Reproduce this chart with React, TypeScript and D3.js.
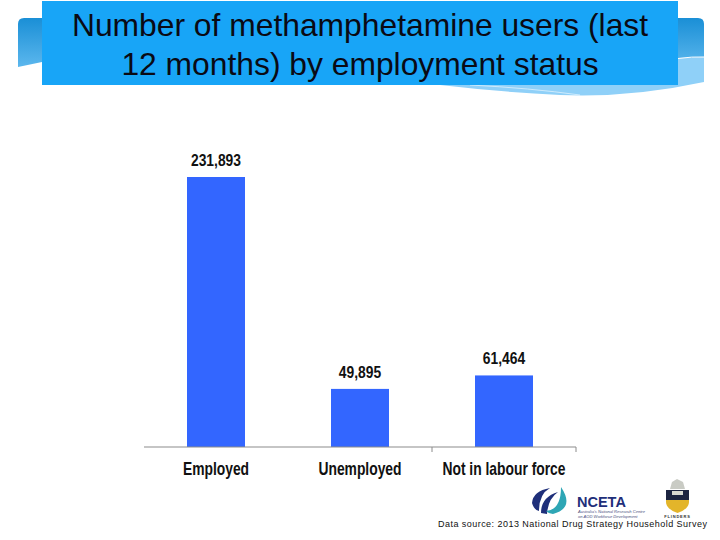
import React from "react";
import * as d3 from "d3";

const categories = ["Employed", "Unemployed", "Not in labour force"];
const values = [231893, 49895, 61464];
const titleLines = ["Number of methamphetamine users (last", "12 months) by employment status"];
const source = "Data source: 2013 National Drug Strategy Household Survey";

const W = 720, H = 540;
const band = d3.scaleBand<string>().domain(categories).range([144, 576]);
const y = d3.scaleLinear().domain([0, 231893]).range([447, 177]);
const fmt = d3.format(",");

export default function App() {
  return (
    <svg width={W} height={H} viewBox={`0 0 ${W} ${H}`} style={{ position: "fixed", left: 0, top: 0, background: "#fff" }}>
      <defs>
        <linearGradient id="ribbon" gradientUnits="userSpaceOnUse" x1="0" y1="18" x2="0" y2="68">
          <stop offset="0" stopColor="#1a8fd6" />
          <stop offset="1" stopColor="#5db8ee" />
        </linearGradient>
      </defs>
      <path d="M18 24 Q18 18 24 18 H42 V62 L18 67 Z" fill="url(#ribbon)" />
      <path d="M678 18 H698 Q704 18 704 24 V58 H678 Z" fill="url(#ribbon)" />
      <path d="M440 85 H678 V58 L704 57 V82 Q630 98 560 95 Q500 92 440 85 Z" fill="#8fd0f8" />
      <path d="M678 58.5 Q692 56.5 704 57" stroke="#fff" strokeWidth={1} fill="none" />
      <path d="M470 85 Q530 88 580 95" stroke="#fff" strokeWidth={0.8} fill="none" opacity={0.7} />
      <rect x={42} y={1} width={636} height={84} fill="#18a5f7" />
      {titleLines.map((t, i) => (
        <text key={t} x={360} y={36 + i * 38.5} textAnchor="middle" fontFamily="Liberation Sans" fontSize={31.8} fill="#0a0a14">{t}</text>
      ))}
      {categories.map((c, i) => {
        const cx = band(c)! + band.bandwidth() / 2;
        const bw = 58;
        return (
          <g key={c}>
            <rect x={cx - bw / 2} y={y(values[i])} width={bw} height={447 - y(values[i])} fill="#3366ff" />
            <text x={cx} y={y(values[i]) - 11} textAnchor="middle" fontFamily="Liberation Sans" fontWeight={700} fontSize={16.5} transform={`translate(${cx} 0) scale(0.84 1) translate(${-cx} 0)`} fill="#111">{fmt(values[i])}</text>
            <text x={cx} y={475} textAnchor="middle" fontFamily="Liberation Sans" fontWeight={700} fontSize={18} transform={`translate(${cx} 0) scale(0.77 1) translate(${-cx} 0)`} fill="#111">{c}</text>
          </g>
        );
      })}
      <line x1={144} x2={576} y1={447} y2={447} stroke="#8c8c8c" strokeWidth={1.2} />
      {[432, 576].map(t => <line key={t} x1={t} x2={t} y1={447} y2={452} stroke="#8c8c8c" />)}
      <g>
        <path d="M532 503 Q533 491 550 488 Q539 494 539 511 Q534 510 532 503Z" fill="#1f2f7a" />
        <path d="M541 513 Q541 497 558 492 Q548 499 547 514Z" fill="#1f2f7a" />
        <path d="M546 511 Q561 510 561 487 Q575 508 553 514 Q549 514 546 511Z" fill="#2ea6b5" />
        <text x={577} y={507} fontFamily="Liberation Sans" fontWeight={700} fontSize={14.5} fill="#1f2f7a">NCETA</text>
        <text x={578} y={512.5} fontFamily="Liberation Sans" fontSize={4.1} fontStyle="italic" fill="#4a4f80">Australia's National Research Centre</text>
        <text x={578} y={518} fontFamily="Liberation Sans" fontSize={4.1} fontStyle="italic" fill="#4a4f80">on AOD Workforce Development</text>
        <path d="M666 490 H689 V502 Q689 509 677.5 513 Q666 509 666 502Z" fill="#e3b52a" />
        <path d="M666 490 H689 V500 H666Z" fill="#1c2440" />
        <rect x={672} y={491} width={11} height={4} fill="#d8d8d0" />
        <path d="M670 489 L672 482 L677 479 L683 482 L685 489 Z" fill="#c9cbc4" />
        <text x={677.5} y={518} textAnchor="middle" fontFamily="Liberation Sans" fontWeight={700} fontSize={4} letterSpacing={0.8} fill="#333">FLINDERS</text>
      </g>
      <text x={438} y={527} fontFamily="Liberation Sans" fontSize={9} letterSpacing={0.46} fill="#111">{source}</text>
    </svg>
  );
}
